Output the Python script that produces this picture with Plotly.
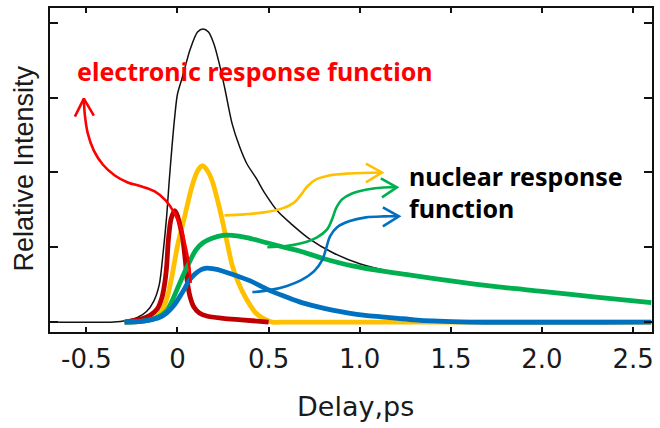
import plotly.graph_objects as go

# ---- data ----
measured_x = [-0.70, -0.35, -0.28, -0.22, -0.17, -0.13, -0.10, -0.08, -0.06, -0.045, -0.03, -0.015,
              0.0, 0.03, 0.07, 0.11, 0.14, 0.17, 0.20, 0.23, 0.26, 0.30, 0.34, 0.38, 0.43, 0.48,
              0.55, 0.63, 0.72, 0.85, 1.0, 1.2, 1.4, 1.6]
measured_y = [0, 0, 0.02, 0.06, 0.14, 0.28, 0.5, 0.9, 1.4, 1.9, 2.35, 2.75,
              3.05, 3.3, 3.65, 3.88, 3.92, 3.88, 3.72, 3.45, 3.12, 2.65, 2.35, 2.12, 1.93, 1.72,
              1.48, 1.3, 1.12, 0.93, 0.78, 0.66, 0.58, 0.52]

electronic_x = [-0.29, -0.2, -0.15, -0.11, -0.085, -0.07, -0.06, -0.05, -0.035, -0.015, 0.0, 0.015,
                0.028, 0.044, 0.055, 0.07, 0.09, 0.12, 0.16, 0.25, 0.35, 0.5]
electronic_y = [0, 0.04, 0.09, 0.18, 0.33, 0.52, 0.73, 1.1, 1.38, 1.49, 1.42, 1.28,
                1.13, 0.8, 0.52, 0.33, 0.2, 0.12, 0.08, 0.05, 0.03, 0.0]

nuc1_x = [-0.29, -0.2, -0.15, -0.1, -0.06, -0.03, 0.0, 0.04, 0.08, 0.11, 0.137, 0.165, 0.19,
          0.23, 0.27, 0.30, 0.33, 0.36, 0.40, 0.43, 0.47, 0.52, 0.6, 2.6]
nuc1_y = [0, 0.01, 0.03, 0.1, 0.3, 0.62, 1.02, 1.42, 1.82, 2.02, 2.09, 2.02, 1.89,
          1.53, 1.09, 0.76, 0.55, 0.39, 0.22, 0.12, 0.05, 0.0, 0.0, 0.0]

nuc2_x = [-0.29, -0.2, -0.12, -0.06, -0.03, 0.0, 0.03, 0.065, 0.10, 0.14, 0.19, 0.25, 0.30, 0.38,
          0.49, 0.60, 0.67, 0.80, 0.96, 1.10, 1.27, 1.50, 1.76, 2.00, 2.31, 2.60]
nuc2_y = [0, 0.01, 0.05, 0.15, 0.28, 0.45, 0.62, 0.80, 0.96, 1.06, 1.12, 1.16, 1.16, 1.13,
          1.06, 0.99, 0.95, 0.85, 0.75, 0.69, 0.63, 0.55, 0.47, 0.41, 0.33, 0.26]

nuc3_x = [-0.29, -0.2, -0.15, -0.1, -0.06, -0.02, 0.01, 0.04, 0.065, 0.10, 0.13, 0.16, 0.2, 0.25,
          0.30, 0.4, 0.49, 0.58, 0.67, 0.76, 0.85, 0.94, 1.03, 1.12, 1.21, 1.3, 1.4, 1.6, 2.6]
nuc3_y = [0, 0.01, 0.03, 0.06, 0.12, 0.22, 0.33, 0.45, 0.56, 0.65, 0.7, 0.72, 0.71, 0.68,
          0.64, 0.55, 0.44, 0.35, 0.27, 0.21, 0.16, 0.12, 0.09, 0.07, 0.05, 0.03, 0.015, 0.0, 0.0]

# hand-drawn pointer curves (data coordinates)
red_arrow_x = [0.072, 0.066, 0.049, 0.022, -0.016, -0.065, -0.125, -0.196, -0.273, -0.344,
               -0.410, -0.459, -0.492, -0.508, -0.514]
red_arrow_y = [0.52, 0.72, 0.96, 1.227, 1.453, 1.627, 1.747, 1.813, 1.867, 1.96,
               2.107, 2.293, 2.52, 2.76, 2.987]
red_head_x = [-0.563, -0.514, -0.459]
red_head_y = [2.747, 2.987, 2.76]

yel_arrow_x = [0.258, 0.367, 0.476, 0.575, 0.641, 0.679, 0.712, 0.761, 0.832, 0.941, 1.122]
yel_arrow_y = [1.427, 1.44, 1.467, 1.52, 1.6, 1.707, 1.813, 1.907, 1.96, 1.987, 2.0]
yel_head_x = [1.034, 1.122, 1.034]
yel_head_y = [2.12, 2.0, 1.867]

grn_arrow_x = [0.493, 0.586, 0.679, 0.766, 0.821, 0.848, 0.870, 0.903, 0.958, 1.04, 1.133, 1.204]
grn_arrow_y = [1.0, 1.013, 1.053, 1.133, 1.24, 1.373, 1.52, 1.64, 1.72, 1.773, 1.8, 1.8]
grn_head_x = [1.116, 1.204, 1.122]
grn_head_y = [1.92, 1.8, 1.667]

blu_arrow_x = [0.411, 0.504, 0.597, 0.679, 0.750, 0.794, 0.816, 0.837, 0.876, 0.941, 1.034, 1.133, 1.215]
blu_arrow_y = [0.4, 0.427, 0.48, 0.56, 0.68, 0.827, 0.987, 1.147, 1.267, 1.347, 1.4, 1.413, 1.413]
blu_head_x = [1.127, 1.215, 1.127]
blu_head_y = [1.533, 1.413, 1.28]

x_ticks = [-0.5, 0, 0.5, 1.0, 1.5, 2.0, 2.5]
x_tick_text = ["-0.5", "0", "0.5", "1.0", "1.5", "2.0", "2.5"]
y_ticks = [0, 1, 2, 3, 4]

RED = "#ff0000"
DARKRED = "#c00000"
YELLOW = "#ffc000"
GREEN = "#00b050"
BLUE = "#0070c0"

fig = go.Figure()

def line(x, y, color, width, shape="linear", smoothing=0.8):
    fig.add_trace(go.Scatter(x=x, y=y, mode="lines",
                             line=dict(color=color, width=width, shape=shape, smoothing=smoothing),
                             hoverinfo="skip", showlegend=False))

line(measured_x, measured_y, "#111111", 1.5, "spline")
line(nuc1_x, nuc1_y, YELLOW, 4.8, "spline")
line(electronic_x, electronic_y, DARKRED, 4.8, "spline")
line(nuc2_x, nuc2_y, GREEN, 4.8, "spline")
line(nuc3_x, nuc3_y, BLUE, 4.8, "spline")

line(red_arrow_x, red_arrow_y, RED, 2.6, "spline", 1.0)
line(red_head_x, red_head_y, RED, 2.6)
line(yel_arrow_x, yel_arrow_y, YELLOW, 2.6, "spline", 1.0)
line(yel_head_x, yel_head_y, YELLOW, 2.6)
line(grn_arrow_x, grn_arrow_y, GREEN, 2.6, "spline", 1.0)
line(grn_head_x, grn_head_y, GREEN, 2.6)
line(blu_arrow_x, blu_arrow_y, BLUE, 2.6, "spline", 1.0)
line(blu_head_x, blu_head_y, BLUE, 2.6)

fig.update_layout(
    width=660, height=428,
    margin=dict(l=50, r=6, t=7, b=96),
    paper_bgcolor="white", plot_bgcolor="white",
    xaxis=dict(range=[-0.6996, 2.6039], tickvals=x_ticks, ticktext=x_tick_text,
               showline=True, linecolor="#111111", linewidth=1.5, mirror="ticks",
               ticks="inside", ticklen=5, tickwidth=1.5, tickcolor="#111111",
               showgrid=False, zeroline=False,
               tickfont=dict(family="DejaVu Sans", size=26, color="#1a1a1a"),
               ticklabelstandoff=3),
    yaxis=dict(range=[-0.1333, 4.2], tickvals=y_ticks, showticklabels=False,
               showline=True, linecolor="#111111", linewidth=1.5, mirror="ticks",
               ticks="inside", ticklen=8, tickwidth=1.5, tickcolor="#111111",
               showgrid=False, zeroline=False),
)

fig.add_annotation(text="Relative Intensity", xref="paper", yref="paper",
                   x=-0.043, y=0.505, xanchor="center", yanchor="middle", textangle=-90,
                   showarrow=False, font=dict(family="Liberation Sans", size=27, color="#1a1a1a"))
fig.add_annotation(text="Delay,ps", xref="paper", yref="paper",
                   x=0.508, y=-0.231, xanchor="center", yanchor="middle",
                   showarrow=False, font=dict(family="DejaVu Sans", size=27, color="#1a1a1a"))
fig.add_annotation(text="<b>electronic response function</b>", xref="x", yref="y",
                   x=-0.56, y=3.36, xanchor="left", yanchor="middle",
                   showarrow=False, font=dict(family="Noto Sans", size=25, color=RED))
fig.add_annotation(text="<b>nuclear response</b>", xref="x", yref="y",
                   x=1.259, y=1.947, xanchor="left", yanchor="middle",
                   showarrow=False, font=dict(family="Noto Sans", size=25, color="#000000"))
fig.add_annotation(text="<b>function</b>", xref="x", yref="y",
                   x=1.259, y=1.52, xanchor="left", yanchor="middle",
                   showarrow=False, font=dict(family="Noto Sans", size=25, color="#000000"))

fig.write_html("out.html")
